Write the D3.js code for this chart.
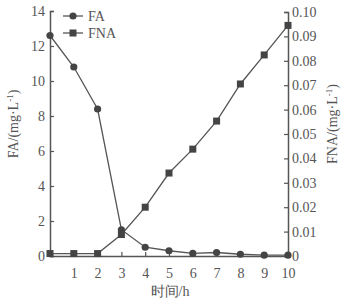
<!DOCTYPE html>
<html>
<head>
<meta charset="utf-8">
<script src="https://cdn.jsdelivr.net/npm/d3@7"></script>
<style>
  body { margin: 0; background: #fff; }
  svg text { font-family: "Liberation Serif", "DejaVu Serif", serif; fill: #555; }
</style>
</head>
<body>
<svg width="363" height="308"></svg>
<script>
// time in hours
var hours = [0, 1, 2, 3, 4, 5, 6, 7, 8, 9, 10];
// FA, mg/L (left axis)
var faValues = [12.6, 10.8, 8.4, 1.5, 0.5, 0.3, 0.15, 0.2, 0.1, 0.05, 0.05];
// FNA, mg/L (right axis)
var fnaValues = [0.001, 0.001, 0.001, 0.0088, 0.020, 0.034, 0.0438, 0.0553, 0.0705, 0.0824, 0.0945];
var xTicks = [1, 2, 3, 4, 5, 6, 7, 8, 9, 10];
var leftTicks = [0, 2, 4, 6, 8, 10, 12, 14];
var rightTicks = [0, 0.01, 0.02, 0.03, 0.04, 0.05, 0.06, 0.07, 0.08, 0.09, 0.10];

var color = "#555";
var svg = d3.select("svg");

var x = d3.scaleLinear().domain([0, 10]).range([50, 288]);
var yL = d3.scaleLinear().domain([0, 14]).range([256, 11]);
var yR = d3.scaleLinear().domain([0, 0.10]).range([256, 12]);

// axes
var gx = svg.append("g")
    .attr("transform", "translate(0,256)")
    .call(d3.axisTop(x).tickValues(xTicks).tickSize(4).tickFormat(d3.format("d")));
gx.selectAll("text").attr("y", 12).attr("dy", "0.71em");

var gl = svg.append("g")
    .attr("transform", "translate(50,0)")
    .call(d3.axisRight(yL).tickValues(leftTicks).tickSize(4));
gl.selectAll("text").attr("x", -5).attr("text-anchor", "end");

var gr = svg.append("g")
    .attr("transform", "translate(288,0)")
    .call(d3.axisLeft(yR).tickValues(rightTicks).tickSize(4)
        .tickFormat(function(d) { return d === 0 ? "0" : d.toFixed(2); }));
gr.selectAll("text").attr("x", 4).attr("text-anchor", "start");

svg.selectAll(".domain").attr("stroke", color).attr("stroke-width", 1.5);
svg.selectAll(".tick line").attr("stroke", color).attr("stroke-width", 1.2);
svg.selectAll(".tick text").attr("fill", color).style("font-size", "14px");

// lines
var faLine = d3.line()
    .x(function(d, i) { return x(hours[i]); })
    .y(function(d) { return yL(d); });
var fnaLine = d3.line()
    .x(function(d, i) { return x(hours[i]); })
    .y(function(d) { return yR(d); });

svg.append("path").datum(faValues)
    .attr("d", faLine).attr("fill", "none").attr("stroke", color).attr("stroke-width", 1.3);
svg.append("path").datum(fnaValues)
    .attr("d", fnaLine).attr("fill", "none").attr("stroke", color).attr("stroke-width", 1.3);

svg.selectAll(".fa").data(faValues).enter().append("circle")
    .attr("cx", function(d, i) { return x(hours[i]); })
    .attr("cy", function(d) { return yL(d); })
    .attr("r", 3.6).attr("fill", "#444");

svg.selectAll(".fna").data(fnaValues).enter().append("rect")
    .attr("x", function(d, i) { return x(hours[i]) - 3.5; })
    .attr("y", function(d) { return yR(d) - 3.5; })
    .attr("width", 7).attr("height", 7).attr("fill", "#444");

// legend
var lg = svg.append("g").attr("transform", "translate(63,16)");
lg.append("line").attr("x1", 0).attr("x2", 20).attr("y1", 0).attr("y2", 0).attr("stroke", color).attr("stroke-width", 1.3);
lg.append("circle").attr("cx", 10).attr("cy", 0).attr("r", 3.6).attr("fill", "#444");
lg.append("text").attr("x", 25).attr("y", 0).attr("dy", "0.35em").style("font-size", "14px").text("FA");
lg.append("line").attr("x1", 0).attr("x2", 20).attr("y1", 17).attr("y2", 17).attr("stroke", color).attr("stroke-width", 1.3);
lg.append("rect").attr("x", 6.5).attr("y", 13.5).attr("width", 7).attr("height", 7).attr("fill", "#444");
lg.append("text").attr("x", 25).attr("y", 17).attr("dy", "0.35em").style("font-size", "14px").text("FNA");

// axis titles
var fsL = svg.append("text")
    .attr("transform", "translate(18,124) rotate(-90)")
    .attr("text-anchor", "middle").style("font-size", "14px");
fsL.append("tspan").text("FA/(mg·L");
fsL.append("tspan").attr("dy", "-5").style("font-size", "9px").text("-1");
fsL.append("tspan").attr("dy", "5").text(")");

var fsR = svg.append("text")
    .attr("transform", "translate(337,124) rotate(-90)")
    .attr("text-anchor", "middle").style("font-size", "14px");
fsR.append("tspan").text("FNA/(mg·L");
fsR.append("tspan").attr("dy", "-5").style("font-size", "9px").text("-1");
fsR.append("tspan").attr("dy", "5").text(")");

svg.append("text")
    .attr("x", 170).attr("y", 296)
    .attr("text-anchor", "middle").style("font-size", "14px")
    .text("时间/h");
</script>
</body>
</html>
